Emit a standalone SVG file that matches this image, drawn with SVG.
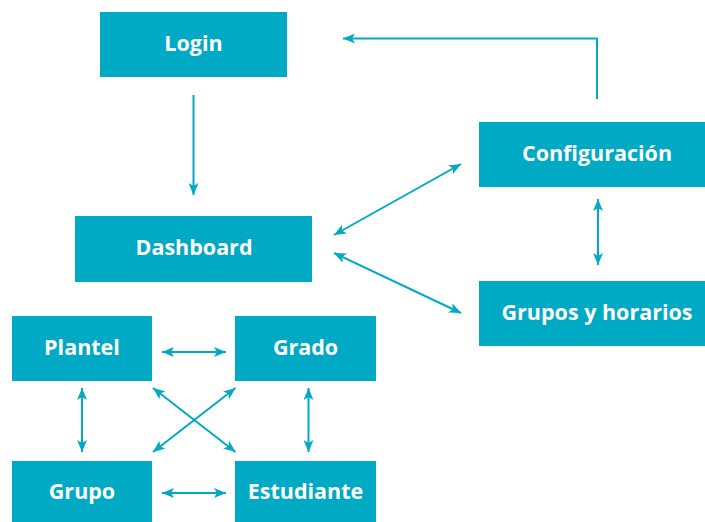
<svg xmlns="http://www.w3.org/2000/svg" width="705" height="522" viewBox="0 0 705 522">
<style>
.box{fill:#00A9C4}
.lbl{font-family:"Open Sans","Liberation Sans",sans-serif;font-weight:700;font-size:21.5px;fill:#fff;text-anchor:middle;dominant-baseline:central}
.c{stroke:#00A9C4;stroke-width:2;fill:none}
</style>
<defs>
<marker id="ah" viewBox="0 0 12 10" refX="12" refY="5" markerWidth="12" markerHeight="10" markerUnits="userSpaceOnUse" orient="auto-start-reverse">
<path d="M0,0 L12,5 L0,10 L3,5 Z" fill="#00A9C4"/>
</marker>
</defs>
<rect width="705" height="522" fill="#fff"/>
<g id="login"><rect class="box" x="100" y="12" width="187" height="65"/><text class="lbl" x="193.5" y="42">Login</text></g>
<g id="configuracion"><rect class="box" x="479" y="122" width="226" height="65"/><text class="lbl" x="597" y="152">Configuración</text></g>
<g id="dashboard"><rect class="box" x="75" y="216" width="237" height="66"/><text class="lbl" x="194" y="246">Dashboard</text></g>
<g id="grupos-horarios"><rect class="box" x="479" y="281" width="226" height="65"/><text class="lbl" x="597" y="311">Grupos y horarios</text></g>
<g id="plantel"><rect class="box" x="12" y="316" width="140" height="65"/><text class="lbl" x="82" y="346">Plantel</text></g>
<g id="grado"><rect class="box" x="235" y="316" width="141" height="65"/><text class="lbl" x="305.5" y="346">Grado</text></g>
<g id="grupo"><rect class="box" x="12" y="461" width="140" height="65"/><text class="lbl" x="82" y="490">Grupo</text></g>
<g id="estudiante"><rect class="box" x="235" y="461" width="141" height="65"/><text class="lbl" x="305.5" y="490">Estudiante</text></g>
<g id="connectors">
<line class="c" x1="193.5" y1="95" x2="193.5" y2="195" marker-end="url(#ah)"/>
<polyline class="c" points="597,99 597,38.5 343,38.5" marker-end="url(#ah)"/>
<line class="c" x1="334" y1="235" x2="461" y2="164" marker-start="url(#ah)" marker-end="url(#ah)"/>
<line class="c" x1="334" y1="253" x2="461" y2="313" marker-start="url(#ah)" marker-end="url(#ah)"/>
<line class="c" x1="598" y1="199" x2="598" y2="265" marker-start="url(#ah)" marker-end="url(#ah)"/>
<line class="c" x1="162" y1="352" x2="226" y2="352" marker-start="url(#ah)" marker-end="url(#ah)"/>
<line class="c" x1="162" y1="493" x2="226" y2="493" marker-start="url(#ah)" marker-end="url(#ah)"/>
<line class="c" x1="82" y1="388" x2="82" y2="452" marker-start="url(#ah)" marker-end="url(#ah)"/>
<line class="c" x1="308.5" y1="388" x2="308.5" y2="452" marker-start="url(#ah)" marker-end="url(#ah)"/>
<line class="c" x1="153" y1="388" x2="235.5" y2="452" marker-start="url(#ah)" marker-end="url(#ah)"/>
<line class="c" x1="235.5" y1="388" x2="153" y2="452" marker-start="url(#ah)" marker-end="url(#ah)"/>
</g>
</svg>
